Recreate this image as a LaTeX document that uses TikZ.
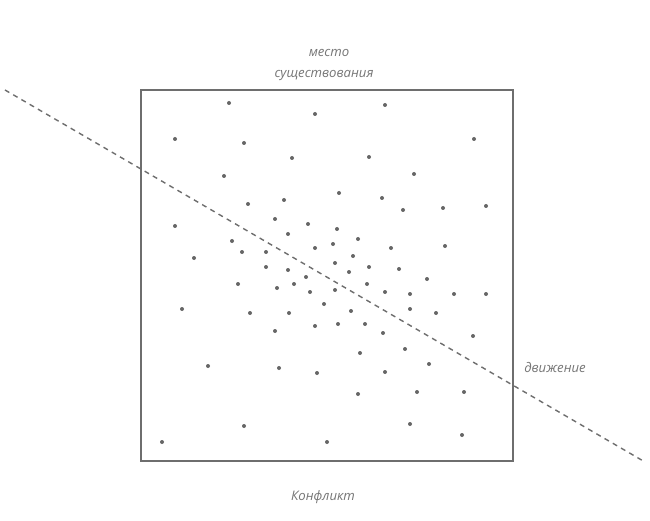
\documentclass[tikz,border=0pt]{standalone}
\usepackage{fontspec}
\setmainfont{Open Sans}
\begin{document}
\begin{tikzpicture}[x=1bp,y=-1bp]
\definecolor{framegray}{HTML}{6E6E6E}
\definecolor{dotgray}{HTML}{666666}
\definecolor{textgray}{HTML}{767676}
\tikzset{
  frame/.style={draw=framegray,line width=2.5bp},
  axisline/.style={draw=framegray,line width=1.4bp,dash pattern=on 5bp off 4.5bp},
  lbl/.style={font=\fontsize{13.2}{15}\selectfont\itshape,text=textgray,inner sep=0pt},
  pt/.style={fill=dotgray}
}
\useasboundingbox (0,0) rectangle (650,521);
\fill[white] (0,0) rectangle (650,521);
\coordinate (tl) at (141,90);
\coordinate (br) at (513,461);
\draw[frame] (tl) rectangle (br);
\coordinate (ls) at (5,90);
\coordinate (le) at (645,462);
\draw[axisline] (ls) -- (le);
\foreach \px/\py in {229/103,315/114,385/105,175/139,474/139,244/143,292/158,369/157,
  224/176,414/174,339/193,382/198,248/204,284/200,403/210,443/208,486/206,
  175/226,275/219,308/224,337/229,288/234,358/239,232/241,333/244,315/248,391/248,445/246,
  194/258,242/252,266/252,353/256,335/263,266/267,369/267,288/270,349/272,399/269,427/279,306/277,
  238/284,294/284,277/288,367/284,310/292,335/290,385/292,410/294,454/294,486/294,
  324/304,182/309,250/313,289/313,351/311,410/309,436/313,
  275/331,315/326,338/324,365/324,383/333,473/336,
  360/353,405/349,429/364,208/366,279/368,317/373,385/372,
  358/394,417/392,464/392,244/426,410/424,162/442,327/442,462/435}
  \fill[pt] (\px,\py) circle (2bp);
\node[lbl] (mesto) at (329,53) {место};
\node[lbl] (sush) at (324,76) {существования};
\node[lbl] (dvizh) at (555,367) {движение};
\node[lbl] (konf) at (323,497) {Конфликт};
\end{tikzpicture}
\end{document}
